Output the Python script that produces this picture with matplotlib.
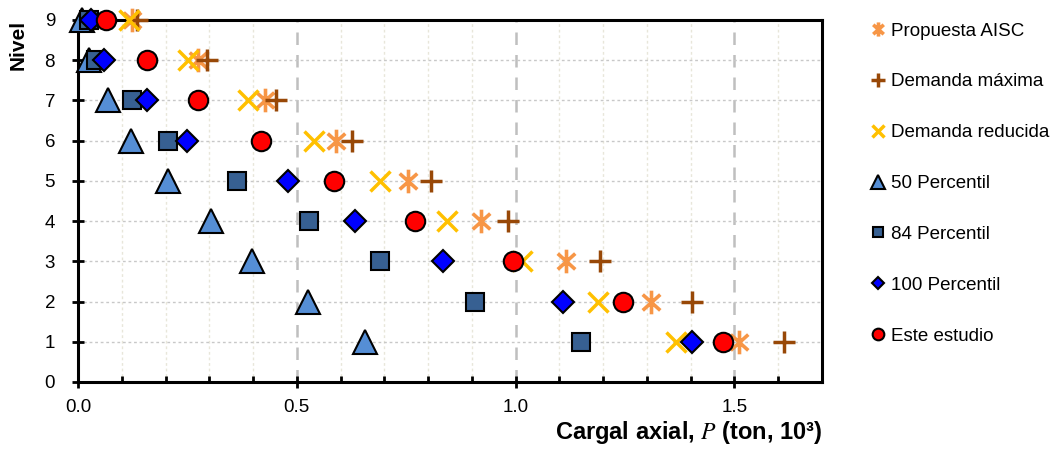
import numpy as np
import matplotlib
matplotlib.use("Agg")
import matplotlib.pyplot as plt
from matplotlib.path import Path
from matplotlib.ticker import MultipleLocator, FormatStrFormatter

plt.rcParams['font.family'] = ['Liberation Sans', 'DejaVu Sans']
plt.rcParams['mathtext.fontset'] = 'stix'

# Data (axial load, ton x 10^3) per level
niveles = [1, 2, 3, 4, 5, 6, 7, 8, 9]
propuesta_aisc = [1.51, 1.309, 1.115, 0.921, 0.755, 0.589, 0.427, 0.275, 0.124]
demanda_maxima = [1.612, 1.402, 1.192, 0.983, 0.807, 0.627, 0.452, 0.295, 0.135]
demanda_reducida = [1.366, 1.188, 1.015, 0.842, 0.689, 0.539, 0.388, 0.252, 0.117]
percentil_50 = [0.655, 0.525, 0.397, 0.304, 0.206, 0.122, 0.069, 0.026, 0.008]
percentil_84 = [1.149, 0.908, 0.689, 0.527, 0.363, 0.206, 0.124, 0.042, 0.025]
percentil_100 = [1.402, 1.108, 0.835, 0.634, 0.479, 0.249, 0.158, 0.06, 0.03]
este_estudio = [1.473, 1.245, 0.994, 0.771, 0.584, 0.418, 0.275, 0.158, 0.063]

# asterisk marker: vertical bar plus an X
ang = np.deg2rad(42)
verts = [(0, -1), (0, 1),
         (-np.cos(ang), -np.sin(ang)), (np.cos(ang), np.sin(ang)),
         (-np.cos(ang), np.sin(ang)), (np.cos(ang), -np.sin(ang))]
codes = [Path.MOVETO, Path.LINETO] * 3
asterisco = Path(verts, codes)

fig = plt.figure(figsize=(10.6, 4.51), dpi=100)
ax = fig.add_axes([0.0736, 0.153, 0.7019, 0.8027])

series = [
    (propuesta_aisc, 'Propuesta AISC', dict(marker=asterisco, color='#F79646', ms=17, mew=2.6)),
    (demanda_maxima, 'Demanda máxima', dict(marker='+', color='#984807', ms=16, mew=2.5)),
    (demanda_reducida, 'Demanda reducida', dict(marker='x', color='#FFC000', ms=15, mew=2.5)),
    (percentil_50, '50 Percentil', dict(marker='^', mfc='#558ED5', mec='black', ms=17, mew=1.5)),
    (percentil_84, '84 Percentil', dict(marker='s', mfc='#376092', mec='black', ms=13, mew=1.5)),
    (percentil_100, '100 Percentil', dict(marker='D', mfc='#0000FF', mec='black', ms=11, mew=1.5)),
    (este_estudio, 'Este estudio', dict(marker='o', mfc='#FF0000', mec='black', ms=14, mew=1.5)),
]
for i, (vals, lab, st) in enumerate(series):
    ax.plot(vals, niveles, ls='none', label=lab, clip_on=False, zorder=3 + i, **st)

ax.set_xlim(0, 1.7)
ax.set_ylim(0, 9)
ax.xaxis.set_major_locator(MultipleLocator(0.5))
ax.xaxis.set_minor_locator(MultipleLocator(0.1))
ax.yaxis.set_major_locator(MultipleLocator(1))
ax.xaxis.set_major_formatter(FormatStrFormatter('%.1f'))

ax.grid(axis='y', which='major', color='#C8C8C8', ls=(0, (2, 2)), lw=1)
ax.grid(axis='x', which='minor', color='#E8E6DA', ls=(0, (2, 2)), lw=1)
ax.grid(axis='x', which='major', color='#BFBFBF', ls=(0, (5, 4)), lw=1.8)

for s in ax.spines.values():
    s.set_linewidth(2.2)
ax.tick_params(which='major', direction='inout', length=9, width=2, labelsize=13.5)
ax.tick_params(which='minor', direction='in', length=4, width=2)
ax.tick_params(axis='x', pad=8)
ax.tick_params(axis='y', pad=12)

ax.set_ylabel('Nivel', fontsize=15, fontweight='bold', loc='top', labelpad=12)
ax.set_xlabel('Cargal axial, $P$ (ton, 10³)', fontsize=17, fontweight='bold', loc='right', labelpad=2)

ax.legend(loc='upper left', bbox_to_anchor=(0.8145, 0.967), bbox_transform=fig.transFigure,
          frameon=False, fontsize=13.5, markerscale=0.6, handlelength=0.8, handletextpad=0.3,
          labelspacing=1.8, borderaxespad=0)

fig.savefig('out.png', dpi=100)
